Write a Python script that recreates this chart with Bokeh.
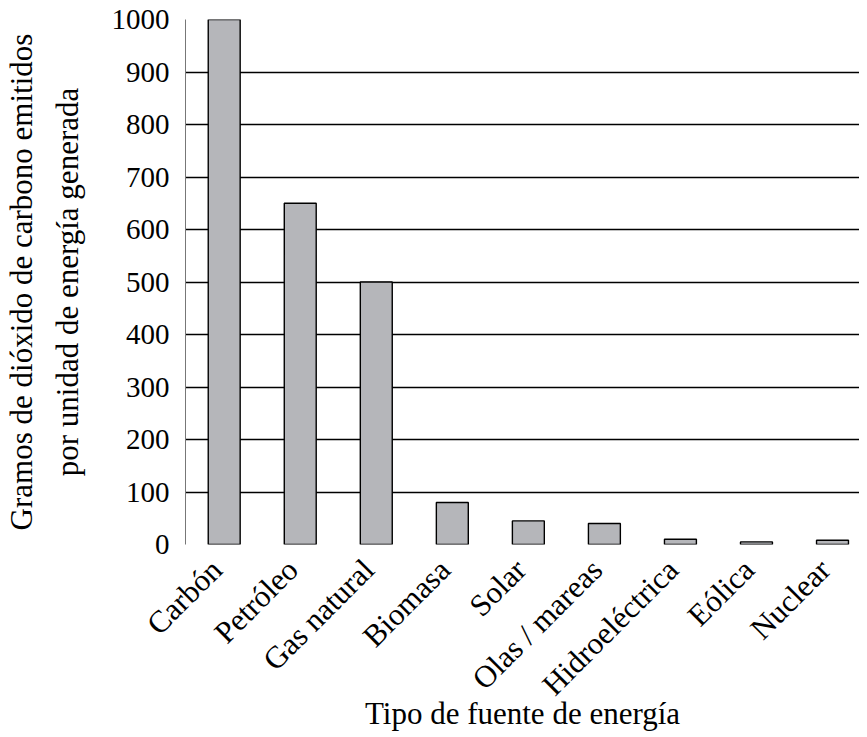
import math
from bokeh.plotting import figure
from bokeh.models import Range1d, FixedTicker, ColumnDataSource
from bokeh.embed import file_html
from bokeh.resources import INLINE

categories = ["Carbón", "Petróleo", "Gas natural", "Biomasa", "Solar",
              "Olas / mareas", "Hidroeléctrica", "Eólica", "Nuclear"]
values = [1000, 650, 500, 80, 45, 40, 10, 5, 8]
y_ticks = [0, 100, 200, 300, 400, 500, 600, 700, 800, 900, 1000]

xs = list(range(len(categories)))
src = ColumnDataSource(dict(x=xs, top=values))

FONT = "Liberation Serif"
LABEL_SHIFT = 0.1  # move rotated labels slightly left so their ends sit under the bars

p = figure(width=859, height=736, output_backend="svg", toolbar_location=None,
           x_range=Range1d(-0.509, 8.355), y_range=Range1d(0, 1000))
p.min_border_left = 183
p.min_border_right = 0
p.min_border_top = 19
p.min_border_bottom = 192
p.outline_line_color = None

p.vbar(x="x", top="top", bottom=0, width=0.42, source=src,
       fill_color="#b5b6ba", line_color="black", line_width=1.4)

# y axis
p.yaxis.ticker = FixedTicker(ticks=y_ticks)
p.yaxis.major_label_text_font = FONT
p.yaxis.major_label_text_font_size = "29px"
p.yaxis.major_label_text_color = "black"
p.yaxis.major_tick_line_color = None
p.yaxis.minor_tick_line_color = None
p.yaxis.axis_line_color = "#777777"
p.yaxis.axis_line_width = 1
p.yaxis.major_label_standoff = 10
p.yaxis.axis_label = "Gramos de dióxido de carbono emitidos\npor unidad de energía generada"
p.yaxis.axis_label_text_font = FONT
p.yaxis.axis_label_text_font_size = "31px"
p.yaxis.axis_label_text_font_style = "normal"
p.yaxis.axis_label_text_color = "black"
p.yaxis.axis_label_text_line_height = 1.3
p.yaxis.axis_label_standoff = 24

# x axis
label_ticks = [round(i - LABEL_SHIFT, 3) for i in xs]
p.xaxis.ticker = FixedTicker(ticks=label_ticks)
p.xaxis.major_label_overrides = {t: c for t, c in zip(label_ticks, categories)}
p.xaxis.major_label_orientation = math.pi / 4
p.xaxis.major_label_text_font = FONT
p.xaxis.major_label_text_font_size = "31px"
p.xaxis.major_label_text_color = "black"
p.xaxis.major_tick_line_color = None
p.xaxis.minor_tick_line_color = None
p.xaxis.axis_line_color = None
p.xaxis.major_label_standoff = 14
p.xaxis.axis_label = "Tipo de fuente de energía"
p.xaxis.axis_label_text_font = FONT
p.xaxis.axis_label_text_font_size = "31px"
p.xaxis.axis_label_text_font_style = "normal"
p.xaxis.axis_label_text_color = "black"
p.xaxis.axis_label_standoff = -22

p.xgrid.grid_line_color = None
p.ygrid.ticker = FixedTicker(ticks=y_ticks)
p.ygrid.grid_line_color = "black"
p.ygrid.grid_line_width = 1.4

open("out.html", "w").write(file_html(p, INLINE))
